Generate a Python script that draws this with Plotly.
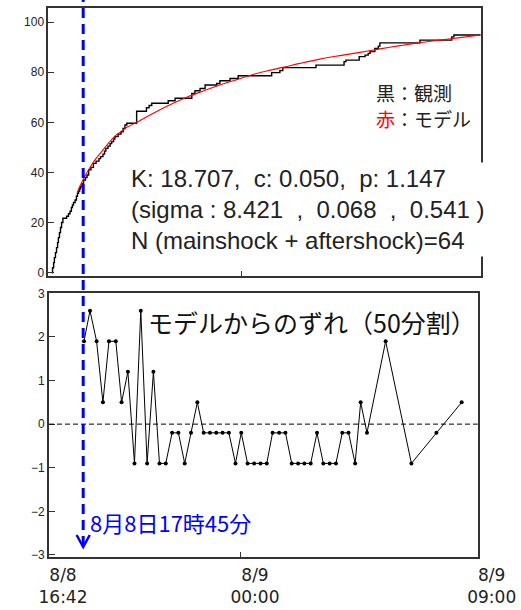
import plotly.graph_objects as go

# ---------------- data (hours after 8/8 16:42) ----------------
obs_t = [0.13, 0.16, 0.20, 0.23, 0.27, 0.31, 0.35, 0.38, 0.42, 0.46, 0.50, 0.55,
         0.69, 0.76, 0.82, 0.87, 0.91, 0.95, 1.01, 1.06, 1.10, 1.14, 1.18, 1.21,
         1.27, 1.33, 1.40, 1.46, 1.52, 1.61, 1.70, 1.80, 1.91, 1.97, 2.06, 2.12,
         2.17, 2.25, 2.33, 2.39, 2.46, 2.51, 2.63, 2.74, 2.82, 2.89, 2.96, 3.33,
         3.70, 3.80, 3.90, 4.52, 4.78, 5.41, 5.53, 5.72, 5.91, 6.35, 6.47, 6.85,
         7.16, 8.42, 8.73, 8.84, 10.09, 11.15, 11.22, 11.72, 11.94, 12.06, 12.13,
         12.31, 12.44, 12.50, 14.01, 15.21, 15.29, 16.30]
obs_n = [0, 2, 4, 6, 8, 10, 12, 14, 16, 18, 20, 21.7,
         22.5, 23.5, 24.5, 26, 27, 28, 29, 30.5, 31.7, 32.5, 33.5, 34.3,
         35.5, 37, 38, 39, 41, 42, 43.6, 44.5, 45.5, 46.3, 47.3, 48.5,
         49.6, 50.5, 51.5, 52.3, 53.3, 54.3, 55.3, 56.2, 57.5, 58.9, 59.6, 64.4,
         65.8, 66.7, 67.6, 68.6, 69.6, 71.5, 72.6, 73.5, 74.9, 75.5, 76.6, 77.5,
         78.6, 79.8, 80.6, 81.8, 82.8, 84.2, 84.8, 86.2, 86.8, 87.5, 88.2,
         89.5, 90.4, 91.7, 92.8, 94.1, 94.8, 94.8]

model_t = [1.09, 1.19, 1.38, 1.57, 1.76, 1.95, 2.20, 2.51, 2.70, 2.96, 3.33,
           3.96, 4.59, 5.22, 5.84, 6.47, 7.10, 7.60, 8.23, 8.84, 9.49, 10.24,
           11.00, 11.75, 12.50, 13.26, 14.01, 14.77, 15.52, 16.30]
model_n = [32.0, 34.5, 38.5, 42.0, 45.0, 47.5, 50.8, 54.5, 56.0, 58.0, 60.0,
           63.6, 67.0, 70.0, 72.5, 74.9, 77.0, 78.7, 80.5, 81.9, 83.5, 85.2,
           86.6, 87.9, 89.3, 90.6, 91.8, 92.8, 93.8, 94.8]

dev_t = [1.33, 1.56, 1.81, 2.05, 2.28, 2.54, 2.76, 3.00, 3.25, 3.49, 3.73, 3.97,
         4.20, 4.44, 4.68, 4.92, 5.16, 5.40, 5.64, 5.88, 6.12, 6.36, 6.60, 6.84,
         7.09, 7.31, 7.55, 7.80, 8.04, 8.28, 8.50, 8.75, 8.99, 9.23, 9.47, 9.71,
         9.95, 10.19, 10.43, 10.67, 10.91, 11.15, 11.39, 11.64, 11.85, 12.09,
         12.80, 13.78, 14.73, 15.69]
dev_v = [1.9, 2.6, 1.9, 0.5, 1.9, 1.9, 0.5, 1.2, -0.9, 2.6, -0.9, 1.2,
         -0.9, -0.9, -0.2, -0.2, -0.9, -0.2, 0.5, -0.2, -0.2, -0.2, -0.2, -0.2,
         -0.9, -0.2, -0.9, -0.9, -0.9, -0.9, -0.2, -0.2, -0.2, -0.9, -0.9, -0.9,
         -0.9, -0.2, -0.9, -0.9, -0.9, -0.2, -0.2, -0.9, 0.5, -0.2,
         1.9, -0.9, -0.2, 0.5]

x_ticks = [0, 7.3, 16.3]
x_ticktext = ["8/8<br>16:42", "8/9<br>00:00", "8/9<br>09:00"]
top_yticks = [0, 20, 40, 60, 80, 100]
bot_yticks = [-3, -2, -1, 0, 1, 2, 3]
mark_time = 1.30
mark_label = "8月8日17時45分"

W, H = 521, 610
fig = go.Figure()

fig.add_trace(go.Scatter(x=obs_t, y=obs_n, mode="lines", line=dict(color="black", width=1.4, shape="hv"),
                         xaxis="x", yaxis="y", showlegend=False))
fig.add_trace(go.Scatter(x=model_t, y=model_n, mode="lines", line=dict(color="#ff0000", width=1.1, shape="spline"),
                         xaxis="x", yaxis="y", showlegend=False))
fig.add_trace(go.Scatter(x=dev_t, y=dev_v, mode="lines+markers", line=dict(color="black", width=1),
                         marker=dict(color="black", size=4), xaxis="x2", yaxis="y2", showlegend=False))

axis_common = dict(showline=True, linecolor="#333", linewidth=1.6, mirror=True, showgrid=False,
                   zeroline=False, ticks="inside", tickcolor="#333", automargin=False)
fig.update_layout(
    width=W, height=H, margin=dict(l=0, r=0, t=0, b=0),
    paper_bgcolor="white", plot_bgcolor="white",
    font=dict(family="Liberation Sans, Arial", color="#222"),
    xaxis=dict(domain=[48.3 / W, 480.7 / W], range=[0, 16.3], anchor="y", tickvals=[7.3],
               showticklabels=False, ticklen=5, **axis_common),
    yaxis=dict(domain=[1 - 276 / H, 1 - 8 / H], range=[-1.32, 105.6], anchor="x", tickvals=top_yticks,
               ticklen=6, tickfont=dict(size=12), **axis_common),
    xaxis2=dict(domain=[49 / W, 477.7 / W], range=[0, 16.3], anchor="y2", tickvals=x_ticks,
                ticktext=x_ticktext, ticklen=5, ticklabelshift=14, ticklabelstandoff=2,
                tickfont=dict(size=17, family="DejaVu Sans", color="#222"), **axis_common),
    yaxis2=dict(domain=[1 - 556.7 / H, 1 - 293.3 / H], range=[-3.04, 3.0], anchor="x2", tickvals=bot_yticks,
                ticklen=6, tickfont=dict(size=12), **axis_common),
)

# zero reference line in deviation panel
fig.add_shape(type="line", xref="x2 domain", yref="y2", x0=0, x1=1, y0=0, y1=0,
              line=dict(color="black", width=1, dash="5px,3px"))
# blue marker line + arrowhead
fig.add_shape(type="line", xref="x2", yref="paper", x0=mark_time, x1=mark_time, y0=1 - 546 / H, y1=1.0,
              line=dict(color="#0000ff", width=3, dash="10px,6px"), layer="above")
fig.add_shape(type="path", xref="x2", yref="paper",
              path=f"M {mark_time - 0.25},{1 - 535 / H} L {mark_time},{1 - 547 / H} L {mark_time + 0.25},{1 - 535 / H}",
              line=dict(color="#0000ff", width=2.5), layer="above")

cjk = "Noto Sans CJK JP"
fig.add_annotation(xref="paper", yref="paper", x=374 / W, y=1 - 92 / H, xanchor="left", yanchor="middle",
                   text="黒：観測", showarrow=False, font=dict(family=cjk, size=19, color="#222"))
fig.add_annotation(xref="paper", yref="paper", x=374 / W, y=1 - 118 / H, xanchor="left", yanchor="middle",
                   text="<span style='color:#ff0000'>赤</span>：モデル", showarrow=False,
                   font=dict(family=cjk, size=19, color="#222"))
fig.add_annotation(xref="paper", yref="paper", x=128 / W, y=1 - 162 / H, xanchor="left", yanchor="top",
                   align="left", showarrow=False, bgcolor="white", borderpad=2,
                   text="K: 18.707,  c: 0.050,  p: 1.147<br>(sigma : 8.421  ,  0.068  ,  0.541 )<br>N (mainshock + aftershock)=64",
                   font=dict(family="Liberation Sans, Arial", size=24, color="#222"))
fig.add_annotation(xref="paper", yref="paper", x=146 / W, y=1 - 322 / H, xanchor="left", yanchor="middle",
                   text="モデルからのずれ（50分割）", showarrow=False, font=dict(family=cjk, size=25, color="#111"))
fig.add_annotation(xref="paper", yref="paper", x=88 / W, y=1 - 522 / H, xanchor="left", yanchor="middle",
                   text=mark_label, showarrow=False, font=dict(family=cjk, size=22, color="#0000ff"))

fig.write_html("out.html", config={"displayModeBar": False},
               post_script="document.body.style.margin='0';document.body.style.overflow='hidden';")
